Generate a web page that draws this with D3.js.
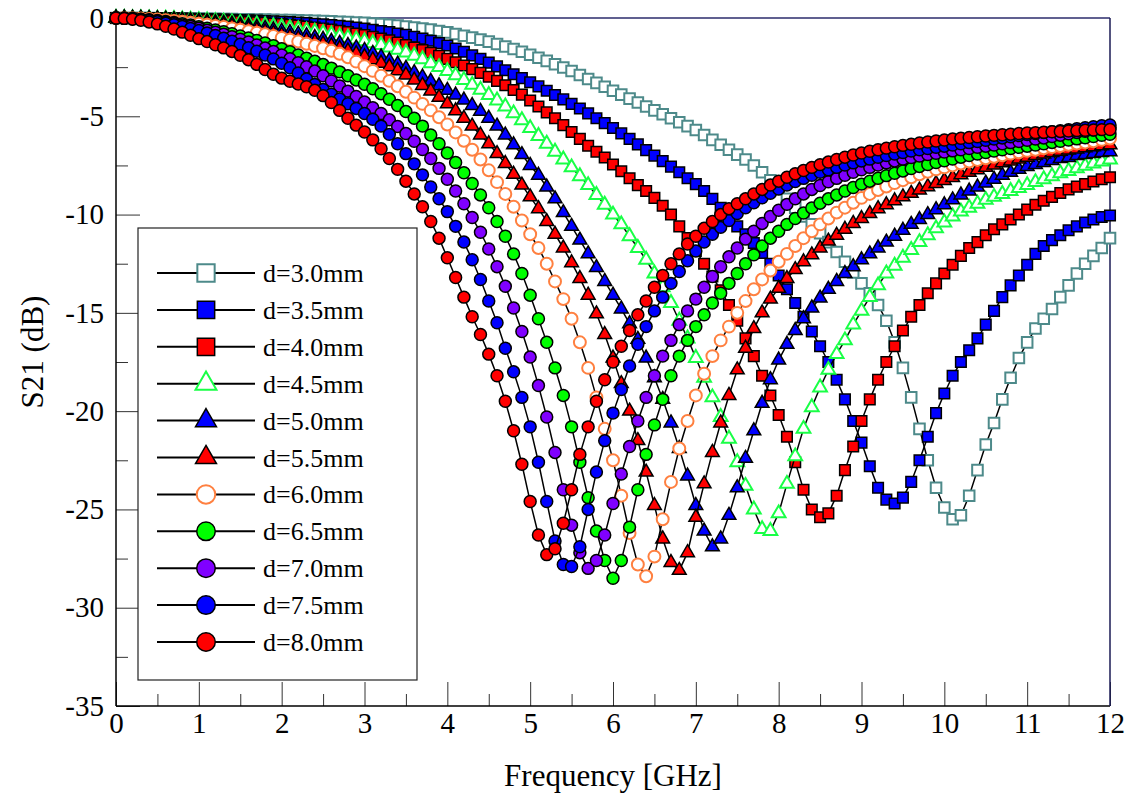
<!DOCTYPE html>
<html>
<head>
<meta charset="utf-8">
<script src="https://cdn.jsdelivr.net/npm/d3@7"></script>
<style>
    body { margin: 0; background: #fff; }
    text { font-family: "Liberation Serif", "Times New Roman", serif; fill: #000; }
</style>
</head>
<body>
<div id="chart"></div>
<script>
// Frequency grid (GHz), read every 0.1 GHz
const freq = [
    0, 0.1, 0.2, 0.3, 0.4, 0.5, 0.6, 0.7, 0.8, 0.9,
    1, 1.1, 1.2, 1.3, 1.4, 1.5, 1.6, 1.7, 1.8, 1.9,
    2, 2.1, 2.2, 2.3, 2.4, 2.5, 2.6, 2.7, 2.8, 2.9,
    3, 3.1, 3.2, 3.3, 3.4, 3.5, 3.6, 3.7, 3.8, 3.9,
    4, 4.1, 4.2, 4.3, 4.4, 4.5, 4.6, 4.7, 4.8, 4.9,
    5, 5.1, 5.2, 5.3, 5.4, 5.5, 5.6, 5.7, 5.8, 5.9,
    6, 6.1, 6.2, 6.3, 6.4, 6.5, 6.6, 6.7, 6.8, 6.9,
    7, 7.1, 7.2, 7.3, 7.4, 7.5, 7.6, 7.7, 7.8, 7.9,
    8, 8.1, 8.2, 8.3, 8.4, 8.5, 8.6, 8.7, 8.8, 8.9,
    9, 9.1, 9.2, 9.3, 9.4, 9.5, 9.6, 9.7, 9.8, 9.9,
    10, 10.1, 10.2, 10.3, 10.4, 10.5, 10.6, 10.7, 10.8, 10.9,
    11, 11.1, 11.2, 11.3, 11.4, 11.5, 11.6, 11.7, 11.8, 11.9,
    12
];

// S21 (dB) for each thickness d
const d30 = [
    0, 0, 0, 0, 0, -0.01, -0.01, -0.02, -0.02, -0.03,
    -0.03, -0.04, -0.04, -0.05, -0.05, -0.06, -0.07, -0.08, -0.08, -0.09,
    -0.1, -0.11, -0.12, -0.13, -0.14, -0.16, -0.17, -0.19, -0.21, -0.23,
    -0.25, -0.28, -0.31, -0.35, -0.39, -0.43, -0.48, -0.53, -0.59, -0.66,
    -0.73, -0.81, -0.9, -1.0, -1.1, -1.2, -1.32, -1.45, -1.58, -1.72,
    -1.87, -2.02, -2.18, -2.35, -2.52, -2.7, -2.9, -3.1, -3.3, -3.5,
    -3.7, -3.9, -4.1, -4.3, -4.5, -4.7, -4.9, -5.1, -5.3, -5.5,
    -5.7, -5.95, -6.2, -6.45, -6.7, -6.95, -7.2, -7.5, -7.85, -8.25,
    -8.7, -9.2, -9.65, -10.1, -10.5, -10.95, -11.4, -11.9, -12.4, -12.95,
    -13.5, -14.0, -14.6, -15.4, -16.5, -17.8, -19.3, -20.9, -22.5, -23.9,
    -24.9, -25.5, -25.3, -24.3, -23.0, -21.7, -20.6, -19.4, -18.3, -17.3,
    -16.5, -15.8, -15.3, -14.8, -14.2, -13.6, -13.0, -12.5, -12.1, -11.7,
    -11.2
];
const d35 = [
    0, 0, 0, 0, -0.01, -0.01, -0.02, -0.02, -0.03, -0.04,
    -0.05, -0.06, -0.07, -0.08, -0.09, -0.1, -0.12, -0.13, -0.15, -0.17,
    -0.19, -0.21, -0.23, -0.26, -0.29, -0.32, -0.36, -0.4, -0.44, -0.49,
    -0.54, -0.6, -0.66, -0.72, -0.79, -0.86, -0.95, -1.05, -1.16, -1.28,
    -1.4, -1.55, -1.72, -1.9, -2.08, -2.27, -2.46, -2.66, -2.86, -3.06,
    -3.27, -3.48, -3.7, -3.92, -4.14, -4.37, -4.6, -4.85, -5.1, -5.35,
    -5.6, -5.87, -6.15, -6.43, -6.72, -7.0, -7.28, -7.56, -7.85, -8.15,
    -8.45, -8.8, -9.2, -9.65, -10.1, -10.6, -11.0, -11.45, -11.95, -12.5,
    -13.1, -13.8, -14.5, -15.2, -15.95, -16.7, -17.5, -18.4, -19.4, -20.5,
    -21.6, -22.8, -23.9, -24.5, -24.7, -24.4, -23.6, -22.5, -21.3, -20.1,
    -19.1, -18.2, -17.5, -16.9, -16.3, -15.6, -14.9, -14.2, -13.6, -13.1,
    -12.55, -12.0, -11.6, -11.3, -11.05, -10.8, -10.6, -10.4, -10.25, -10.12,
    -10.05
];
const d40 = [
    0, 0, 0, -0.01, -0.01, -0.02, -0.03, -0.04, -0.05, -0.06,
    -0.08, -0.09, -0.11, -0.13, -0.15, -0.17, -0.2, -0.22, -0.25, -0.28,
    -0.31, -0.35, -0.39, -0.43, -0.48, -0.53, -0.59, -0.65, -0.72, -0.79,
    -0.87, -0.95, -1.04, -1.14, -1.25, -1.37, -1.5, -1.63, -1.77, -1.92,
    -2.08, -2.25, -2.42, -2.6, -2.79, -2.99, -3.2, -3.42, -3.66, -3.9,
    -4.2, -4.5, -4.8, -5.1, -5.45, -5.8, -6.15, -6.5, -6.8, -7.1,
    -7.45, -7.8, -8.15, -8.5, -8.8, -9.15, -9.55, -10.0, -10.6, -11.2,
    -11.85, -12.5, -13.15, -13.85, -14.6, -15.4, -16.3, -17.2, -18.2, -19.2,
    -20.2, -21.3, -22.6, -24.0, -25.0, -25.4, -25.2, -24.3, -23.0, -21.8,
    -20.5, -19.4, -18.4, -17.5, -16.7, -15.9, -15.2, -14.6, -14.0, -13.5,
    -13.0, -12.55, -12.1, -11.7, -11.4, -11.05, -10.75, -10.5, -10.25, -10.0,
    -9.75, -9.5, -9.3, -9.1, -8.9, -8.72, -8.58, -8.45, -8.32, -8.2,
    -8.1
];
const d45 = [
    0, 0, -0.01, -0.01, -0.02, -0.03, -0.04, -0.05, -0.07, -0.09,
    -0.11, -0.13, -0.16, -0.19, -0.22, -0.25, -0.29, -0.33, -0.37, -0.42,
    -0.47, -0.52, -0.58, -0.64, -0.7, -0.77, -0.84, -0.92, -1.0, -1.09,
    -1.18, -1.28, -1.38, -1.5, -1.62, -1.76, -1.92, -2.1, -2.3, -2.5,
    -2.7, -2.92, -3.15, -3.4, -3.65, -3.92, -4.2, -4.5, -4.85, -5.2,
    -5.6, -6.0, -6.4, -6.8, -7.2, -7.6, -8.05, -8.5, -9.0, -9.5,
    -10.0, -10.5, -11.1, -11.7, -12.3, -13.0, -13.7, -14.5, -15.4, -16.3,
    -17.3, -18.3, -19.3, -20.3, -21.4, -22.6, -23.8, -25.0, -26.0, -26.1,
    -25.2, -23.7, -22.3, -20.9, -19.8, -18.8, -17.9, -17.1, -16.4, -15.6,
    -14.9, -14.2, -13.6, -13.0, -12.6, -12.2, -11.8, -11.4, -11.05, -10.7,
    -10.4, -10.1, -9.85, -9.65, -9.45, -9.25, -9.1, -8.95, -8.8, -8.65,
    -8.5, -8.35, -8.2, -8.05, -7.9, -7.78, -7.65, -7.52, -7.4, -7.3,
    -7.2
];
const d50 = [
    0, 0, -0.01, -0.02, -0.03, -0.04, -0.06, -0.08, -0.1, -0.13,
    -0.16, -0.19, -0.23, -0.27, -0.31, -0.36, -0.41, -0.47, -0.53, -0.6,
    -0.67, -0.74, -0.82, -0.9, -0.99, -1.08, -1.18, -1.29, -1.4, -1.52,
    -1.65, -1.8, -1.98, -2.16, -2.35, -2.56, -2.78, -3.0, -3.22, -3.45,
    -3.68, -3.92, -4.17, -4.45, -4.75, -5.1, -5.5, -5.95, -6.45, -6.95,
    -7.5, -8.0, -8.6, -9.2, -9.9, -10.6, -11.3, -12.0, -12.7, -13.4,
    -14.1, -14.8, -15.55, -16.35, -17.3, -18.3, -19.4, -20.6, -21.9, -23.3,
    -24.8, -26.1, -26.9, -26.5, -25.3, -23.9, -22.4, -21.0, -19.6, -18.4,
    -17.4, -16.6, -15.9, -15.3, -14.75, -14.25, -13.8, -13.4, -13.0, -12.65,
    -12.3, -12.0, -11.7, -11.4, -11.1, -10.8, -10.5, -10.25, -10.0, -9.75,
    -9.5, -9.25, -9.0, -8.8, -8.6, -8.4, -8.2, -8.0, -7.85, -7.7,
    -7.55, -7.45, -7.35, -7.25, -7.15, -7.1, -7.0, -6.95, -6.9, -6.85,
    -6.8
];
const d55 = [
    0, 0, -0.01, -0.02, -0.04, -0.06, -0.08, -0.11, -0.14, -0.18,
    -0.22, -0.26, -0.31, -0.36, -0.42, -0.48, -0.55, -0.62, -0.7, -0.78,
    -0.87, -0.96, -1.05, -1.14, -1.23, -1.32, -1.42, -1.55, -1.68, -1.82,
    -1.97, -2.13, -2.3, -2.48, -2.68, -2.9, -3.16, -3.43, -3.72, -4.03,
    -4.37, -4.72, -5.1, -5.5, -5.95, -6.4, -6.9, -7.4, -7.95, -8.5,
    -9.1, -9.7, -10.35, -11.0, -11.7, -12.45, -13.25, -14.1, -15.05, -16.1,
    -17.3, -18.6, -20.0, -21.5, -23.1, -24.8, -26.5, -27.7, -28.1, -27.2,
    -25.4, -23.7, -22.1, -20.6, -19.2, -17.9, -16.8, -15.8, -15.0, -14.3,
    -13.75, -13.25, -12.8, -12.4, -12.05, -11.7, -11.35, -11.05, -10.75, -10.45,
    -10.2, -9.95, -9.7, -9.5, -9.3, -9.1, -8.92, -8.75, -8.58, -8.42,
    -8.27, -8.12, -7.98, -7.85, -7.72, -7.6, -7.48, -7.37, -7.27, -7.17,
    -7.08, -7.0, -6.92, -6.85, -6.78, -6.72, -6.66, -6.6, -6.55, -6.5,
    -6.45
];
const d60 = [
    0, 0, -0.01, -0.03, -0.05, -0.08, -0.11, -0.15, -0.19, -0.24,
    -0.29, -0.34, -0.4, -0.46, -0.53, -0.6, -0.67, -0.75, -0.83, -0.92,
    -1.01, -1.1, -1.2, -1.31, -1.42, -1.54, -1.67, -1.82, -2.0, -2.22,
    -2.45, -2.69, -2.94, -3.2, -3.47, -3.75, -4.05, -4.37, -4.7, -5.05,
    -5.42, -5.82, -6.25, -6.7, -7.2, -7.75, -8.35, -8.95, -9.6, -10.3,
    -11.0, -11.7, -12.5, -13.4, -14.3, -15.3, -16.5, -17.8, -19.3, -20.9,
    -22.5, -24.3, -26.2, -27.8, -28.4, -27.4, -25.5, -23.6, -21.9, -20.5,
    -19.2, -18.1, -17.2, -16.4, -15.7, -15.0, -14.4, -13.8, -13.3, -12.85,
    -12.4, -12.0, -11.6, -11.2, -10.85, -10.5, -10.2, -9.9, -9.65, -9.4,
    -9.15, -8.95, -8.75, -8.57, -8.4, -8.25, -8.1, -7.95, -7.82, -7.7,
    -7.6, -7.5, -7.4, -7.3, -7.22, -7.14, -7.06, -6.98, -6.9, -6.83,
    -6.76, -6.7, -6.63, -6.57, -6.51, -6.45, -6.39, -6.33, -6.27, -6.2,
    -6.13
];
const d65 = [
    0, -0.01, -0.03, -0.06, -0.09, -0.13, -0.18, -0.23, -0.29, -0.36,
    -0.44, -0.52, -0.61, -0.7, -0.8, -0.91, -1.02, -1.14, -1.27, -1.41,
    -1.56, -1.72, -1.88, -2.04, -2.2, -2.37, -2.55, -2.74, -2.94, -3.15,
    -3.37, -3.6, -3.85, -4.13, -4.45, -4.76, -5.1, -5.5, -5.95, -6.4,
    -6.87, -7.35, -7.87, -8.42, -9.0, -9.65, -10.35, -11.1, -12.0, -13.0,
    -14.1, -15.3, -16.5, -17.8, -19.2, -20.8, -22.6, -24.4, -26.1, -27.6,
    -28.5, -27.6, -25.9, -24.0, -22.2, -20.7, -19.4, -18.2, -17.2, -16.4,
    -15.7, -15.1, -14.5, -14.0, -13.5, -13.0, -12.5, -12.05, -11.6, -11.2,
    -10.85, -10.5, -10.2, -9.92, -9.66, -9.42, -9.2, -9.0, -8.8, -8.62,
    -8.45, -8.3, -8.15, -8.02, -7.9, -7.78, -7.66, -7.55, -7.45, -7.35,
    -7.26, -7.17, -7.08, -7.0, -6.92, -6.84, -6.77, -6.7, -6.64, -6.58,
    -6.52, -6.46, -6.4, -6.33, -6.27, -6.21, -6.15, -6.09, -6.03, -5.97,
    -5.92
];
const d70 = [
    0, -0.01, -0.03, -0.07, -0.11, -0.16, -0.22, -0.28, -0.35, -0.43,
    -0.52, -0.62, -0.72, -0.83, -0.95, -1.08, -1.22, -1.37, -1.53, -1.7,
    -1.88, -2.07, -2.27, -2.48, -2.7, -2.94, -3.2, -3.46, -3.72, -3.99,
    -4.27, -4.56, -4.86, -5.18, -5.52, -5.88, -6.27, -6.69, -7.15, -7.65,
    -8.2, -8.8, -9.45, -10.15, -10.9, -11.75, -12.65, -13.65, -14.75, -15.95,
    -17.25, -18.7, -20.3, -22.1, -24.0, -25.8, -27.2, -28.0, -27.6, -26.3,
    -24.7, -23.2, -21.8, -20.5, -19.3, -18.2, -17.2, -16.4, -15.6, -14.9,
    -14.3, -13.7, -13.15, -12.65, -12.15, -11.7, -11.25, -10.85, -10.45, -10.1,
    -9.78, -9.48, -9.2, -8.95, -8.72, -8.52, -8.33, -8.16, -8.0, -7.85,
    -7.72, -7.6, -7.48, -7.37, -7.27, -7.18, -7.1, -7.02, -6.95, -6.88,
    -6.82, -6.76, -6.7, -6.64, -6.58, -6.52, -6.46, -6.4, -6.34, -6.28,
    -6.22, -6.16, -6.1, -6.03, -5.96, -5.89, -5.82, -5.76, -5.7, -5.64,
    -5.58
];
const d75 = [
    0, -0.01, -0.04, -0.08, -0.13, -0.19, -0.26, -0.34, -0.43, -0.53,
    -0.64, -0.76, -0.89, -1.03, -1.18, -1.34, -1.51, -1.69, -1.88, -2.08,
    -2.3, -2.53, -2.8, -3.1, -3.38, -3.64, -3.88, -4.12, -4.36, -4.6,
    -4.86, -5.15, -5.5, -5.92, -6.4, -6.9, -7.42, -7.98, -8.6, -9.2,
    -9.85, -10.6, -11.4, -12.3, -13.3, -14.4, -15.5, -16.8, -18.0, -19.3,
    -20.8, -22.6, -24.6, -26.6, -27.8, -27.9, -26.9, -25.0, -23.1, -21.5,
    -20.1, -18.9, -17.7, -16.6, -15.7, -14.9, -14.2, -13.5, -12.9, -12.35,
    -11.85, -11.4, -11.0, -10.65, -10.3, -9.95, -9.65, -9.4, -9.15, -8.92,
    -8.7, -8.5, -8.32, -8.16, -8.0, -7.85, -7.72, -7.6, -7.48, -7.37,
    -7.27, -7.18, -7.09, -7.0, -6.92, -6.84, -6.77, -6.7, -6.64, -6.58,
    -6.52, -6.46, -6.4, -6.34, -6.28, -6.22, -6.16, -6.1, -6.04, -5.98,
    -5.93, -5.88, -5.83, -5.78, -5.73, -5.68, -5.63, -5.58, -5.53, -5.48,
    -5.44
];
const d80 = [
    0, -0.02, -0.06, -0.12, -0.2, -0.3, -0.42, -0.56, -0.72, -0.88,
    -1.05, -1.2, -1.36, -1.52, -1.7, -1.9, -2.12, -2.36, -2.62, -2.86,
    -3.06, -3.22, -3.36, -3.5, -3.68, -3.95, -4.3, -4.7, -5.1, -5.45,
    -5.8, -6.2, -6.65, -7.15, -7.7, -8.3, -8.95, -9.6, -10.35, -11.2,
    -12.2, -13.2, -14.2, -15.2, -16.1, -17.1, -18.2, -19.5, -21.0, -22.7,
    -24.6, -26.3, -27.3, -27.0, -25.7, -24.0, -22.2, -20.8, -19.5, -18.4,
    -17.5, -16.7, -15.9, -15.1, -14.4, -13.7, -13.1, -12.5, -12.0, -11.5,
    -11.1, -10.7, -10.35, -10.0, -9.7, -9.45, -9.2, -8.95, -8.72, -8.5,
    -8.3, -8.1, -7.92, -7.76, -7.6, -7.46, -7.33, -7.2, -7.08, -6.97,
    -6.87, -6.78, -6.7, -6.62, -6.55, -6.48, -6.42, -6.36, -6.31, -6.26,
    -6.21, -6.16, -6.12, -6.08, -6.04, -6.0, -5.97, -5.94, -5.91, -5.88,
    -5.85, -5.83, -5.81, -5.79, -5.77, -5.75, -5.73, -5.71, -5.7, -5.68,
    -5.67
];

const seriesLabels = ['d=3.0mm', 'd=3.5mm', 'd=4.0mm', 'd=4.5mm', 'd=5.0mm', 'd=5.5mm',
                      'd=6.0mm', 'd=6.5mm', 'd=7.0mm', 'd=7.5mm', 'd=8.0mm'];
const seriesValues = [d30, d35, d40, d45, d50, d55, d60, d65, d70, d75, d80];

// marker styling, one entry per series
const markerColors = ['#4d8a8a', '#0000ff', '#ff0000', '#19ff46', '#0000ff', '#ff0000',
                      '#ff8040', '#00ff00', '#8000ff', '#0000ff', '#ff0000'];
const markerShapes = ['square', 'square', 'square', 'triangle', 'triangle', 'triangle',
                      'circle', 'circle', 'circle', 'circle', 'circle'];
const markerOpen = [true, false, false, true, false, false, true, false, false, false, false];

const xTicks = [0, 1, 2, 3, 4, 5, 6, 7, 8, 9, 10, 11, 12];
const yTicks = [0, -5, -10, -15, -20, -25, -30, -35];

const width = 1131;
const height = 799;
const margin = { left: 116, right: 21, top: 18, bottom: 93 };

const svg = d3.select('#chart').append('svg')
    .attr('width', width)
    .attr('height', height);

const x = d3.scaleLinear().domain([0, 12]).range([margin.left, width - margin.right]);
const y = d3.scaleLinear().domain([-35, 0]).range([height - margin.bottom, margin.top]);

const symbolType = { square: d3.symbolSquare, triangle: d3.symbolTriangle, circle: d3.symbolCircle };
const plotSize = { square: 112, triangle: 82, circle: 112 };
const legendSize = { square: 300, triangle: 190, circle: 270 };

// plain hyphen for negatives, like the original
const plainFormat = d => String(d);

// minor ticks (inward)
const xMinor = d3.range(0.5, 12, 1);
const yMinor = d3.range(-2.5, -35, -5);

svg.append('g')
    .attr('transform', `translate(0,${y(-35)})`)
    .call(d3.axisBottom(x).tickValues(xMinor).tickSize(-12).tickFormat(''))
    .call(g => g.select('.domain').remove())
    .call(g => g.selectAll('line').attr('stroke', '#333'));

svg.append('g')
    .attr('transform', `translate(${x(0)},0)`)
    .call(d3.axisLeft(y).tickValues(yMinor).tickSize(-12).tickFormat(''))
    .call(g => g.select('.domain').remove())
    .call(g => g.selectAll('line').attr('stroke', '#333'));

// major ticks + labels
const xAxis = svg.append('g')
    .attr('transform', `translate(0,${y(-35)})`)
    .call(d3.axisBottom(x).tickValues(xTicks).tickSize(-24).tickPadding(6).tickFormat(plainFormat))
    .call(g => g.select('.domain').remove());
xAxis.selectAll('line').attr('stroke', '#333');
xAxis.selectAll('text').style('font-size', '29px').attr('font-family', null);

const yAxis = svg.append('g')
    .attr('transform', `translate(${x(0)},0)`)
    .call(d3.axisLeft(y).tickValues(yTicks).tickSize(-24).tickPadding(12).tickFormat(plainFormat))
    .call(g => g.select('.domain').remove());
yAxis.selectAll('line').attr('stroke', '#333');
yAxis.selectAll('text').style('font-size', '29px').attr('font-family', null);

// frame: left / bottom black, top / right dark navy
svg.append('line')
    .attr('x1', x(0)).attr('x2', x(0)).attr('y1', y(0)).attr('y2', y(-35))
    .attr('stroke', '#000').attr('stroke-width', 1.5);
svg.append('line')
    .attr('x1', x(0)).attr('x2', x(12)).attr('y1', y(-35)).attr('y2', y(-35))
    .attr('stroke', '#000').attr('stroke-width', 1.5);
svg.append('line')
    .attr('x1', x(0)).attr('x2', x(12)).attr('y1', y(0)).attr('y2', y(0))
    .attr('stroke', '#2b2b6b').attr('stroke-width', 1.5);
svg.append('line')
    .attr('x1', x(12)).attr('x2', x(12)).attr('y1', y(0)).attr('y2', y(-35))
    .attr('stroke', '#1a1a55').attr('stroke-width', 1.5);

// axis titles
svg.append('text')
    .attr('x', (x(0) + x(12)) / 2)
    .attr('y', 786)
    .attr('text-anchor', 'middle')
    .style('font-size', '31px')
    .text('Frequency [GHz]');

svg.append('text')
    .attr('transform', `translate(43,${(y(0) + y(-35)) / 2 - 10}) rotate(-90)`)
    .attr('text-anchor', 'middle')
    .style('font-size', '31px')
    .text('S21 (dB)');

// Draw a marker (shape from d3.symbol) at a given position
function drawMarker(g, i, size, cx, cy) {
    const open = markerOpen[i];
    g.append('path')
        .attr('d', d3.symbol().type(symbolType[markerShapes[i]]).size(size)())
        .attr('transform', `translate(${cx},${cy})`)
        .attr('fill', open ? '#fff' : markerColors[i])
        .attr('stroke', open ? markerColors[i] : '#000')
        .attr('stroke-width', open ? 2 : 1.5);
}

const line = d3.line()
    .x(d => x(d[0]))
    .y(d => y(d[1]));

const plot = svg.append('g').attr('class', 'series');

seriesValues.forEach((vals, i) => {
    const pts = freq.map((f, k) => [f, vals[k]]);
    const g = plot.append('g');
    g.append('path')
        .datum(pts)
        .attr('d', line)
        .attr('fill', 'none')
        .attr('stroke', '#000')
        .attr('stroke-width', 1.5);
    pts.forEach(p => drawMarker(g, i, plotSize[markerShapes[i]], x(p[0]), y(p[1])));
});

// legend box
const legend = svg.append('g').attr('class', 'legend');
legend.append('rect')
    .attr('x', 138).attr('y', 228)
    .attr('width', 279).attr('height', 452)
    .attr('fill', '#fff')
    .attr('stroke', '#222')
    .attr('stroke-width', 1.2);

seriesLabels.forEach((label, i) => {
    const ly = 273 + i * 36.9;
    const item = legend.append('g');
    item.append('line')
        .attr('x1', 157).attr('x2', 255)
        .attr('y1', ly).attr('y2', ly)
        .attr('stroke', '#000').attr('stroke-width', 2);
    drawMarker(item, i, legendSize[markerShapes[i]], 206, ly);
    item.append('text')
        .attr('x', 263)
        .attr('y', ly + 9)
        .style('font-size', '26px')
        .text(label);
});
</script>
</body>
</html>
